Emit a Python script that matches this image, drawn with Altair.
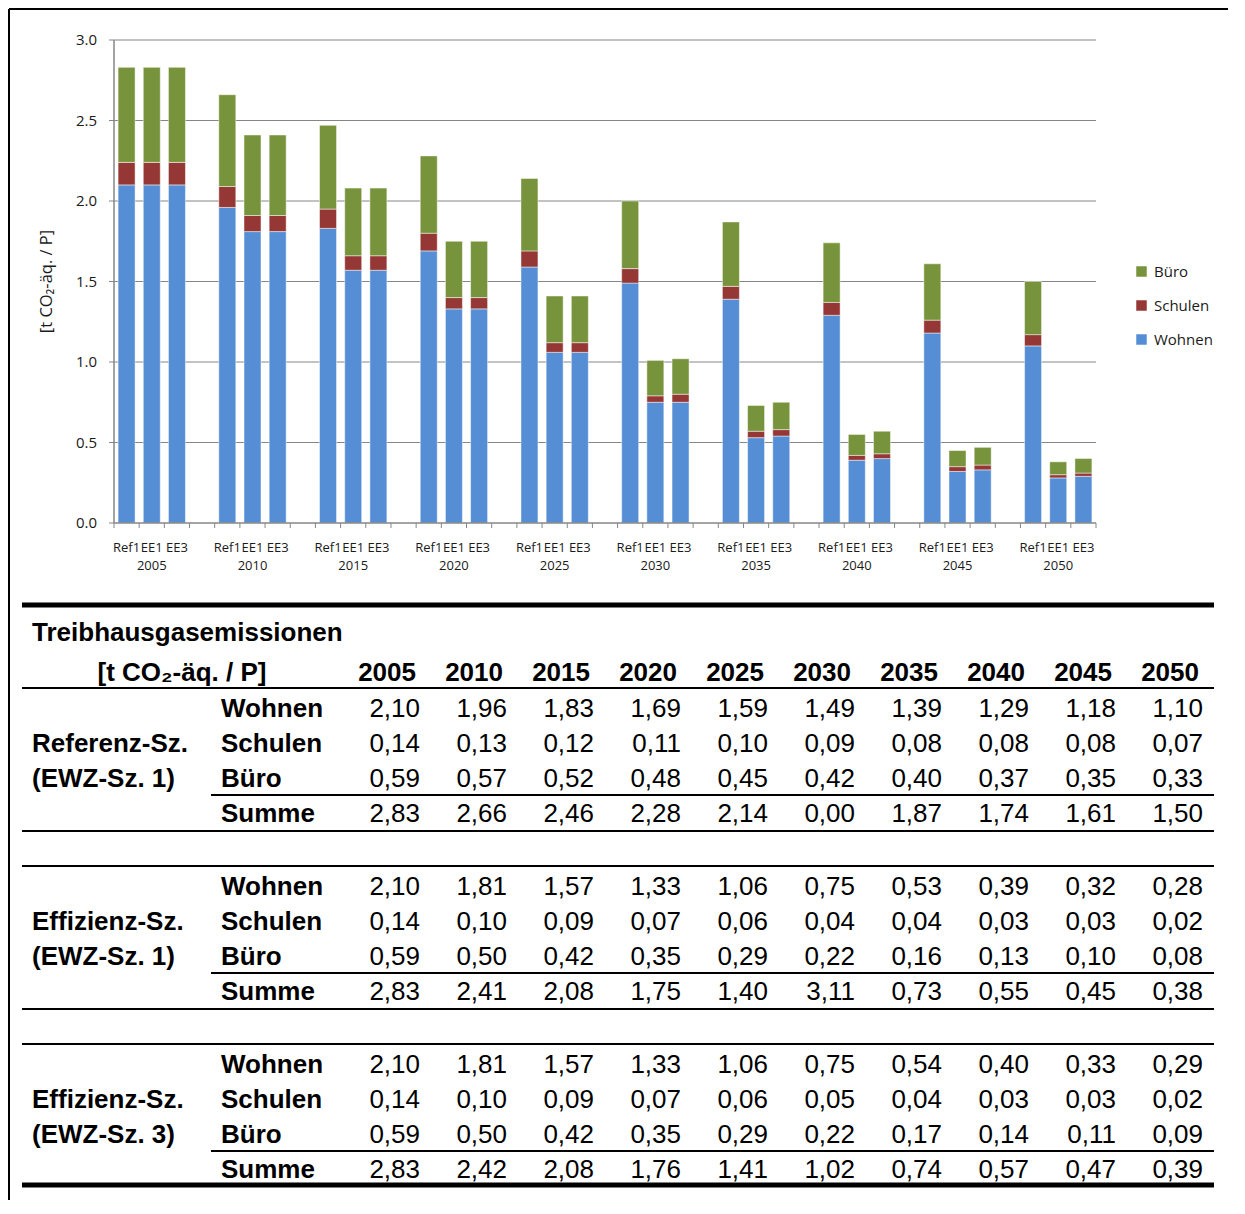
import altair as alt
import pandas as pd

years = [2005, 2010, 2015, 2020, 2025, 2030, 2035, 2040, 2045, 2050]
scenarios = ["Ref1", "EE1", "EE3"]
categories = ["Büro", "Schulen", "Wohnen"]
colors = ["#77933C", "#953735", "#558ED5"]

# Referenz-Sz. (EWZ-Sz. 1)
ref_wohnen = [2.10, 1.96, 1.83, 1.69, 1.59, 1.49, 1.39, 1.29, 1.18, 1.10]
ref_schulen = [0.14, 0.13, 0.12, 0.11, 0.10, 0.09, 0.08, 0.08, 0.08, 0.07]
ref_buero = [0.59, 0.57, 0.52, 0.48, 0.45, 0.42, 0.40, 0.37, 0.35, 0.33]
ref_summe = ["2,83", "2,66", "2,46", "2,28", "2,14", "0,00", "1,87", "1,74", "1,61", "1,50"]
# Effizienz-Sz. (EWZ-Sz. 1)
ee1_wohnen = [2.10, 1.81, 1.57, 1.33, 1.06, 0.75, 0.53, 0.39, 0.32, 0.28]
ee1_schulen = [0.14, 0.10, 0.09, 0.07, 0.06, 0.04, 0.04, 0.03, 0.03, 0.02]
ee1_buero = [0.59, 0.50, 0.42, 0.35, 0.29, 0.22, 0.16, 0.13, 0.10, 0.08]
ee1_summe = ["2,83", "2,41", "2,08", "1,75", "1,40", "3,11", "0,73", "0,55", "0,45", "0,38"]
# Effizienz-Sz. (EWZ-Sz. 3)
ee3_wohnen = [2.10, 1.81, 1.57, 1.33, 1.06, 0.75, 0.54, 0.40, 0.33, 0.29]
ee3_schulen = [0.14, 0.10, 0.09, 0.07, 0.06, 0.05, 0.04, 0.03, 0.03, 0.02]
ee3_buero = [0.59, 0.50, 0.42, 0.35, 0.29, 0.22, 0.17, 0.14, 0.11, 0.09]
ee3_summe = ["2,83", "2,42", "2,08", "1,76", "1,41", "1,02", "0,74", "0,57", "0,47", "0,39"]

y_ticks = [0.0, 0.5, 1.0, 1.5, 2.0, 2.5, 3.0]
y_title = "[t CO₂-äq. / P]"
table_title = "Treibhausgasemissionen"
block_labels = [("Referenz-Sz.", "(EWZ-Sz. 1)"), ("Effizienz-Sz.", "(EWZ-Sz. 1)"), ("Effizienz-Sz.", "(EWZ-Sz. 3)")]
row_labels = ["Wohnen", "Schulen", "Büro", "Summe"]

blocks = [
    (ref_wohnen, ref_schulen, ref_buero, ref_summe),
    (ee1_wohnen, ee1_schulen, ee1_buero, ee1_summe),
    (ee3_wohnen, ee3_schulen, ee3_buero, ee3_summe),
]

# ---------- bar chart ----------
slot_keys = []
for i, yr in enumerate(years):
    for s in scenarios:
        slot_keys.append(f"{yr} {s}")
    if i < len(years) - 1:
        slot_keys.append(f"{yr} gap")

bar_rows = []
for si, s in enumerate(scenarios):
    w, sc, b, _ = blocks[si]
    for i, yr in enumerate(years):
        for cat, val, o in (("Wohnen", w[i], 0), ("Schulen", sc[i], 1), ("Büro", b[i], 2)):
            bar_rows.append({"key": f"{yr} {s}", "cat": cat, "value": val, "ord": o})
bars_df = pd.DataFrame(bar_rows)

FONT = "Open Sans"
AXC = "#868686"
TXC = "#1a1a1a"
X0, X1 = 91, 1073   # plot area within the view
PH = 483            # plot height
xscale = alt.Scale(domain=slot_keys, range=[X0, X1], paddingInner=0, paddingOuter=0)
yscale = alt.Scale(domain=[0, 3])

bars = alt.Chart(bars_df).mark_bar(
    width=alt.RelativeBandSize(0.675), stroke="white", strokeWidth=0.8, strokeOpacity=0.6
).encode(
    x=alt.X("key:N", scale=xscale, sort=slot_keys, axis=None),
    y=alt.Y("value:Q", scale=yscale, stack="zero", axis=None),
    color=alt.Color("cat:N", scale=alt.Scale(domain=categories, range=colors),
                    legend=alt.Legend(title=None, orient="none", legendX=1111, legendY=224,
                                      symbolType="square", symbolSize=110, symbolStrokeWidth=0,
                                      labelFont=FONT, labelFontSize=15, labelColor=TXC,
                                      rowPadding=18, labelOffset=5, padding=0)),
    order=alt.Order("ord:Q"),
)

tick_df = pd.DataFrame({"v": y_ticks})
grid = alt.Chart(tick_df[tick_df.v > 0]).mark_rule(color=AXC, strokeWidth=1).encode(
    y=alt.Y("v:Q", scale=yscale, axis=None),
    x=alt.value(X0), x2=alt.value(X1),
)
ytick_marks = alt.Chart(tick_df).mark_rule(color=AXC, strokeWidth=1).encode(
    y=alt.Y("v:Q", scale=yscale, axis=None),
    x=alt.value(X0 - 5), x2=alt.value(X0),
)
ylabels = alt.Chart(tick_df).mark_text(font=FONT, fontSize=15, color=TXC, align="right",
                                         baseline="middle").encode(
    y=alt.Y("v:Q", scale=yscale, axis=None),
    x=alt.value(X0 - 17),
    text=alt.Text("v:Q", format=".1f"),
)
ytitle = alt.Chart(pd.DataFrame({"t": [y_title]})).mark_text(
    font=FONT, fontSize=16.5, color=TXC, angle=270, align="center", baseline="middle"
).encode(x=alt.value(24), y=alt.value(PH / 2), text="t:N")

yaxis_line = alt.Chart(pd.DataFrame({"a": [0]})).mark_rule(color=AXC, strokeWidth=1.5).encode(
    x=alt.value(X0), y=alt.value(0), y2=alt.value(PH)
)
xaxis_line = alt.Chart(pd.DataFrame({"a": [0]})).mark_rule(color=AXC, strokeWidth=1.5).encode(
    y=alt.value(PH), x=alt.value(X0), x2=alt.value(X1)
)

slot_df = pd.DataFrame({"key": slot_keys})
xticks_start = alt.Chart(slot_df).mark_rule(color=AXC, strokeWidth=1).encode(
    x=alt.X("key:N", scale=xscale, sort=slot_keys, axis=None, bandPosition=0),
    y=alt.value(PH), y2=alt.value(PH + 5),
)
xticks_end = alt.Chart(pd.DataFrame({"key": [slot_keys[-1]]})).mark_rule(color=AXC, strokeWidth=1).encode(
    x=alt.X("key:N", scale=xscale, sort=slot_keys, axis=None, bandPosition=1),
    y=alt.value(PH), y2=alt.value(PH + 5),
)

lab_rows = [{"key": f"{yr} {s}", "label": s} for yr in years for s in scenarios]
bar_labels = alt.Chart(pd.DataFrame(lab_rows)).mark_text(
    font=FONT, fontSize=13, color=TXC, baseline="middle"
).encode(
    x=alt.X("key:N", scale=xscale, sort=slot_keys, axis=None),
    y=alt.value(PH + 25),
    text="label:N",
)

year_df = pd.DataFrame({"key": [f"{yr} EE1" for yr in years], "label": [str(y) for y in years]})
year_text = alt.Chart(year_df).mark_text(font=FONT, fontSize=13, color=TXC, baseline="middle").encode(
    x=alt.X("key:N", scale=xscale, sort=slot_keys, axis=None),
    y=alt.value(PH + 43),
    text="label:N",
)

frame_v = alt.Chart(pd.DataFrame({"a": [0]})).mark_rule(color="black", strokeWidth=2).encode(
    x=alt.value(-14), y=alt.value(-31), y2=alt.value(1160)
)
frame_h = alt.Chart(pd.DataFrame({"a": [0]})).mark_rule(color="black", strokeWidth=2).encode(
    y=alt.value(-31), x=alt.value(-14), x2=alt.value(1205)
)

top = alt.layer(
    grid, bars, yaxis_line, xaxis_line, ytick_marks, ylabels, ytitle,
    xticks_start, xticks_end, bar_labels, year_text, frame_v, frame_h
).properties(width=1192, height=PH)

# ---------- table ----------
TW, TH = 1192, 600
COL_VAL = [397 + 87 * i for i in range(len(years))]
COL_YEAR = [393 + 87 * i for i in range(len(years))]
BLOCK = 178
ROW = 35

left_bold, right_bold, right_reg, center_bold = [], [], [], []
left_bold.append({"x": 9, "y": 33, "t": table_title})
center_bold.append({"x": 159, "y": 73, "t": y_title})
for i, yr in enumerate(years):
    right_bold.append({"x": COL_YEAR[i], "y": 73, "t": str(yr)})

rules = [{"x": -1, "x2": 1191, "y": 5, "w": 5}, {"x": -1, "x2": 1191, "y": 88, "w": 2}]
for b, (w, sc, bu, sm) in enumerate(blocks):
    base = 109 + BLOCK * b
    l1, l2 = block_labels[b]
    left_bold.append({"x": 9, "y": base + ROW, "t": l1})
    left_bold.append({"x": 9, "y": base + 2 * ROW, "t": l2})
    for r, lab in enumerate(row_labels):
        left_bold.append({"x": 198, "y": base + ROW * r, "t": lab})
    series = [[f"{v:.2f}".replace(".", ",") for v in w],
              [f"{v:.2f}".replace(".", ",") for v in sc],
              [f"{v:.2f}".replace(".", ",") for v in bu],
              sm]
    for r, vals in enumerate(series):
        for i, v in enumerate(vals):
            right_reg.append({"x": COL_VAL[i], "y": base + ROW * r, "t": v})
    if b > 0:
        rules.append({"x": -1, "x2": 1191, "y": 88 + BLOCK * b, "w": 2})
    rules.append({"x": 188, "x2": 1191, "y": 195 + BLOCK * b, "w": 2})
    rules.append({"x": -1, "x2": 1191, "y": 231 + BLOCK * b - (0 if b < 2 else 2), "w": 2 if b < 2 else 5})

txs = alt.Scale(domain=[0, TW], range=[0, TW])
tys = alt.Scale(domain=[0, TH], range=[0, TH])
TFONT = "Liberation Sans"
FS = 26


def text_layer(rows, align, weight):
    return alt.Chart(pd.DataFrame(rows)).mark_text(
        font=TFONT, fontSize=FS, fontWeight=weight, align=align, baseline="middle", color="black"
    ).encode(
        x=alt.X("x:Q", scale=txs, axis=None),
        y=alt.Y("y:Q", scale=tys, axis=None),
        text="t:N",
    )


rule_layer = alt.Chart(pd.DataFrame(rules)).mark_rule(color="black").encode(
    x=alt.X("x:Q", scale=txs, axis=None),
    x2="x2:Q",
    y=alt.Y("y:Q", scale=tys, axis=None),
    strokeWidth=alt.StrokeWidth("w:Q", scale=None),
)

table = alt.layer(
    rule_layer,
    text_layer(left_bold, "left", "bold"),
    text_layer(center_bold, "center", "bold"),
    text_layer(right_bold, "right", "bold"),
    text_layer(right_reg, "right", "normal"),
).properties(width=TW, height=TH)

chart = alt.vconcat(top, table, spacing=77, bounds="flush").properties(padding=0).configure_view(
    strokeWidth=0
)

chart.save("out.html", embed_options={"renderer": "svg", "actions": False})
